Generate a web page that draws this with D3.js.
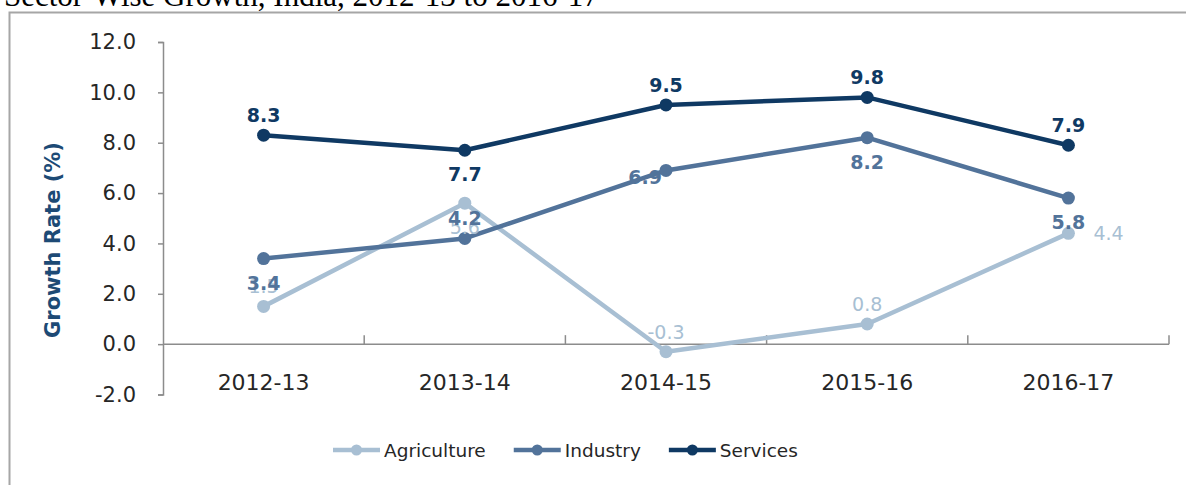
<!DOCTYPE html>
<html>
<head>
<meta charset="utf-8">
<script src="https://cdn.jsdelivr.net/npm/d3@7"></script>
<style>
  body { margin: 0; background: #fff; }
  svg { display: block; }
</style>
</head>
<body>
<div id="chart"></div>
<script>
var years = ["2012-13", "2013-14", "2014-15", "2015-16", "2016-17"];
var agriculture = [1.5, 5.6, -0.3, 0.8, 4.4];
var industry = [3.4, 4.2, 6.9, 8.2, 5.8];
var services = [8.3, 7.7, 9.5, 9.8, 7.9];
var seriesNames = ["Agriculture", "Industry", "Services"];
var yTicks = [-2, 0, 2, 4, 6, 8, 10, 12];

var width = 1186,
    height = 485;

var colors = { Agriculture: "#a8bfd3", Industry: "#52739a", Services: "#0f3963" };
// where each data label sits relative to its point
var placement = {
  Agriculture: ["above", "below", "above", "above", "right"],
  Industry: ["below", "above", "left", "below", "below"],
  Services: ["above", "below", "above", "above", "above"]
};

var series = [
  { name: "Agriculture", values: agriculture },
  { name: "Industry", values: industry },
  { name: "Services", values: services }
];

var svg = d3.select("#chart").append("svg")
    .attr("width", width)
    .attr("height", height);

// title, cut at the top of the picture
svg.append("text")
    .attr("x", 4)
    .attr("y", 6)
    .attr("font-family", "Liberation Serif, Times New Roman, serif")
    .attr("font-size", 31)
    .attr("fill", "#000")
    .text("Sector-Wise Growth, India, 2012-13 to 2016-17");

// chart frame
svg.append("path")
    .attr("d", "M9.5," + height + "V12.5H" + width)
    .attr("fill", "none")
    .attr("stroke", "#a6a6a6")
    .attr("stroke-width", 2);

var x = d3.scaleBand()
    .domain(years)
    .range([163, 1169])
    .padding(0);

var y = d3.scaleLinear()
    .domain([-2, 12])
    .range([394.5, 42]);

var fmt = function(d) { return d.toFixed(1); };

// y axis
var yAxis = svg.append("g")
    .attr("transform", "translate(163,0)")
    .call(d3.axisLeft(y).tickValues(yTicks).tickFormat(fmt).tickSize(5).tickPadding(22));
yAxis.select(".domain").attr("stroke", "#8c8c8c").attr("stroke-width", 1.5);
yAxis.selectAll(".tick line").attr("stroke", "#8c8c8c").attr("stroke-width", 1.5);
yAxis.selectAll(".tick text")
    .attr("font-family", "DejaVu Sans, sans-serif")
    .attr("font-size", 21)
    .attr("fill", "#262626");

// x axis sits on zero, ticks pointing up at category boundaries
var bounds = years.map(function(d) { return x(d); }).concat([x.range()[1]]);
var xAxis = svg.append("g");
xAxis.append("line")
    .attr("x1", x.range()[0]).attr("x2", x.range()[1])
    .attr("y1", y(0)).attr("y2", y(0))
    .attr("stroke", "#8c8c8c").attr("stroke-width", 1.5);
xAxis.selectAll(".bt")
    .data(bounds.slice(1))
  .enter().append("line")
    .attr("x1", function(d) { return d; }).attr("x2", function(d) { return d; })
    .attr("y1", y(0)).attr("y2", y(0) - 9)
    .attr("stroke", "#8c8c8c").attr("stroke-width", 1.5);
xAxis.selectAll(".xl")
    .data(years)
  .enter().append("text")
    .attr("x", function(d) { return x(d) + x.bandwidth() / 2; })
    .attr("y", 390)
    .attr("text-anchor", "middle")
    .attr("font-family", "DejaVu Sans, sans-serif")
    .attr("font-size", 22)
    .attr("fill", "#262626")
    .text(function(d) { return d; });

// y title
svg.append("text")
    .attr("transform", "translate(60,240) rotate(-90)")
    .attr("text-anchor", "middle")
    .attr("font-family", "DejaVu Sans, sans-serif")
    .attr("font-weight", "bold")
    .attr("font-size", 21)
    .attr("fill", "#1d4a75")
    .text("Growth Rate (%)");

var cx = function(d, i) { return x(years[i]) + x.bandwidth() / 2; };
var line = d3.line()
    .x(function(d, i) { return cx(d, i); })
    .y(function(d) { return y(d); });

// lines and markers
series.forEach(function(s) {
  svg.append("path")
      .datum(s.values)
      .attr("d", line)
      .attr("fill", "none")
      .attr("stroke", colors[s.name])
      .attr("stroke-width", 4.5)
      .attr("stroke-linejoin", "round");
  svg.selectAll(".pt-" + s.name)
      .data(s.values)
    .enter().append("circle")
      .attr("cx", cx)
      .attr("cy", function(d) { return y(d); })
      .attr("r", 6.5)
      .attr("fill", colors[s.name]);
});

// data labels
series.forEach(function(s) {
  svg.selectAll(".lb-" + s.name)
      .data(s.values)
    .enter().append("text")
      .attr("x", function(d, i) {
        var p = placement[s.name][i];
        if (p === "right") return cx(d, i) + 25;
        if (p === "left") return cx(d, i) - 4;
        return cx(d, i);
      })
      .attr("y", function(d, i) {
        var p = placement[s.name][i];
        if (p === "above") return y(d) - 13;
        if (p === "below") return y(d) + 31;
        if (p === "left") return y(d) + 14;
        return y(d) + 7;
      })
      .attr("text-anchor", function(d, i) {
        var p = placement[s.name][i];
        return p === "right" ? "start" : p === "left" ? "end" : "middle";
      })
      .attr("font-family", "DejaVu Sans, sans-serif")
      .attr("font-size", 19)
      .attr("font-weight", s.name === "Agriculture" ? "normal" : "bold")
      .attr("fill", colors[s.name])
      .text(fmt);
});

// legend
var legend = svg.append("g").attr("transform", "translate(333,450)");
var lx = 0;
seriesNames.forEach(function(name) {
  var g = legend.append("g").attr("transform", "translate(" + lx + ",0)");
  g.append("line")
      .attr("x1", 0).attr("x2", 47)
      .attr("stroke", colors[name]).attr("stroke-width", 4.5);
  g.append("circle")
      .attr("cx", 23.5).attr("r", 5.5)
      .attr("fill", colors[name]);
  var t = g.append("text")
      .attr("x", 51)
      .attr("y", 7)
      .attr("font-family", "DejaVu Sans, sans-serif")
      .attr("font-size", 18.5)
      .attr("fill", "#262626")
      .text(name);
  lx += 51 + t.node().getComputedTextLength() + 28;
});
</script>
</body>
</html>
